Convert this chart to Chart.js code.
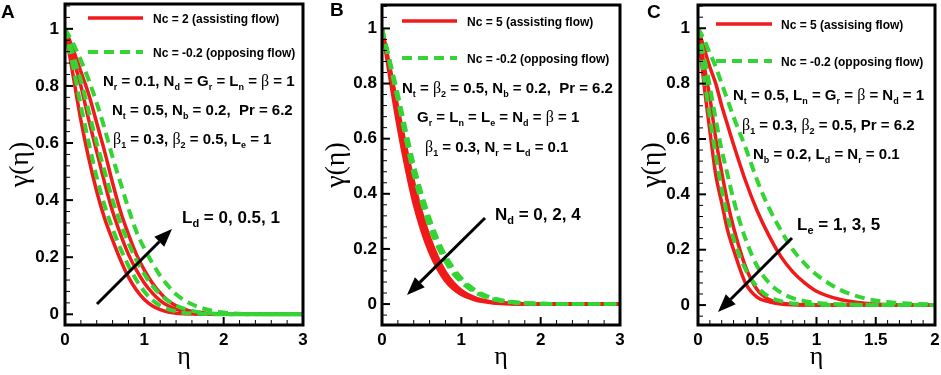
<!DOCTYPE html>
<html>
<head>
<meta charset="utf-8">
<script src="https://cdn.jsdelivr.net/npm/chart.js@4.4.1/dist/chart.umd.min.js"></script>
<style>
  html, body { margin: 0; padding: 0; background: #fff; }
  #wrap { position: relative; width: 941px; height: 375px; overflow: hidden; background: #fff; }
  canvas { position: absolute; top: 0; }
</style>
</head>
<body>
<div id="wrap">
  <canvas id="chartA" width="310" height="375" style="left:0px"></canvas>
  <canvas id="chartB" width="315" height="375" style="left:310px"></canvas>
  <canvas id="chartC" width="316" height="375" style="left:625px"></canvas>
</div>
<script>
// eta grids
const etaA = [0, 0.1, 0.2, 0.3, 0.4, 0.5, 0.6, 0.7, 0.8, 0.9, 1.0, 1.1, 1.2, 1.3, 1.4, 1.5, 1.6, 1.7, 1.8, 1.9, 2.0, 2.2, 2.5, 3.0];
const etaB = etaA;
const etaC = [0, 0.05, 0.1, 0.15, 0.2, 0.25, 0.3, 0.4, 0.5, 0.6, 0.7, 0.8, 0.9, 1.0, 1.2, 1.4, 1.6, 1.8, 2.0];

// panel A: L_d = 0, 0.5, 1
const redA_Ld0   = [1, 0.84, 0.68, 0.545, 0.43, 0.335, 0.26, 0.19, 0.13, 0.085, 0.052, 0.03, 0.016, 0.008, 0.004, 0.002, 0.001, 0, 0, 0, 0, 0, 0, 0];
const redA_Ld05  = [1, 0.9, 0.8, 0.68, 0.57, 0.46, 0.36, 0.28, 0.21, 0.155, 0.11, 0.075, 0.048, 0.03, 0.018, 0.01, 0.006, 0.003, 0.002, 0.001, 0, 0, 0, 0];
const redA_Ld1   = [1, 0.93, 0.85, 0.77, 0.67, 0.57, 0.46, 0.36, 0.28, 0.21, 0.155, 0.11, 0.075, 0.048, 0.03, 0.018, 0.01, 0.006, 0.003, 0.002, 0.001, 0, 0, 0];
const greenA_Ld0  = [1, 0.87, 0.73, 0.6, 0.48, 0.38, 0.3, 0.23, 0.17, 0.12, 0.08, 0.05, 0.03, 0.018, 0.01, 0.005, 0.003, 0.002, 0.001, 0, 0, 0, 0, 0];
const greenA_Ld05 = [1, 0.91, 0.82, 0.71, 0.6, 0.5, 0.4, 0.32, 0.25, 0.19, 0.14, 0.1, 0.07, 0.047, 0.03, 0.02, 0.012, 0.007, 0.004, 0.002, 0.001, 0, 0, 0];
const greenA_Ld1  = [1, 0.95, 0.89, 0.82, 0.74, 0.65, 0.55, 0.46, 0.37, 0.29, 0.23, 0.18, 0.135, 0.1, 0.07, 0.05, 0.035, 0.024, 0.016, 0.01, 0.006, 0.002, 0, 0];

// panel B: N_d = 0, 2, 4
const redB_Nd4   = [1, 0.82, 0.65, 0.5, 0.37, 0.27, 0.19, 0.13, 0.085, 0.055, 0.035, 0.022, 0.013, 0.008, 0.004, 0.002, 0.001, 0, 0, 0, 0, 0, 0, 0];
const redB_Nd2   = [1, 0.84, 0.68, 0.53, 0.4, 0.3, 0.215, 0.15, 0.1, 0.066, 0.043, 0.027, 0.017, 0.01, 0.006, 0.004, 0.002, 0.001, 0, 0, 0, 0, 0, 0];
const redB_Nd0   = [1, 0.86, 0.71, 0.57, 0.44, 0.33, 0.24, 0.17, 0.115, 0.077, 0.05, 0.032, 0.02, 0.012, 0.007, 0.005, 0.003, 0.002, 0.001, 0, 0, 0, 0, 0];
const greenB_Nd4 = [1, 0.87, 0.74, 0.6, 0.47, 0.37, 0.28, 0.21, 0.155, 0.11, 0.08, 0.056, 0.038, 0.026, 0.017, 0.011, 0.007, 0.005, 0.003, 0.002, 0.001, 0, 0, 0];
const greenB_Nd2 = [1, 0.875, 0.75, 0.615, 0.49, 0.385, 0.295, 0.22, 0.165, 0.12, 0.086, 0.06, 0.042, 0.029, 0.019, 0.012, 0.008, 0.005, 0.003, 0.002, 0.001, 0, 0, 0];
const greenB_Nd0 = [1, 0.88, 0.76, 0.63, 0.505, 0.4, 0.31, 0.235, 0.175, 0.13, 0.093, 0.066, 0.046, 0.032, 0.021, 0.014, 0.009, 0.006, 0.004, 0.002, 0.001, 0, 0, 0];

// panel C: L_e = 1, 3, 5
const redC_Le1   = [1, 0.93, 0.86, 0.8, 0.72, 0.65, 0.58, 0.45, 0.34, 0.25, 0.175, 0.12, 0.08, 0.05, 0.02, 0.007, 0.002, 0, 0];
const redC_Le3   = [1, 0.87, 0.75, 0.6, 0.48, 0.37, 0.28, 0.14, 0.055, 0.02, 0.008, 0.003, 0.001, 0, 0, 0, 0, 0, 0];
const redC_Le5   = [1, 0.8, 0.63, 0.47, 0.37, 0.27, 0.2, 0.08, 0.028, 0.012, 0.004, 0.001, 0, 0, 0, 0, 0, 0, 0];
const greenC_Le1 = [1, 0.96, 0.91, 0.86, 0.8, 0.74, 0.68, 0.57, 0.45, 0.35, 0.27, 0.2, 0.15, 0.11, 0.055, 0.025, 0.011, 0.005, 0.002];
const greenC_Le3 = [1, 0.9, 0.79, 0.67, 0.56, 0.47, 0.38, 0.24, 0.14, 0.08, 0.045, 0.025, 0.014, 0.008, 0.003, 0.001, 0, 0, 0];
const greenC_Le5 = [1, 0.83, 0.68, 0.54, 0.42, 0.32, 0.24, 0.13, 0.065, 0.03, 0.014, 0.006, 0.003, 0.001, 0, 0, 0, 0, 0];

// ticks
const yTicks = [0, 0.2, 0.4, 0.6, 0.8, 1];
const yTickLabels = ['0', '0.2', '0.4', '0.6', '0.8', '1'];
const xTicksAB = [0, 1, 2, 3];
const xTickLabelsAB = ['0', '1', '2', '3'];
const xTicksC = [0, 0.5, 1, 1.5, 2];
const xTickLabelsC = ['0', '0.5', '1', '1.5', '2'];

const RED = '#f01a1a';
const GREEN = '#33d433';
const SANS = '"Liberation Sans", Arial, sans-serif';
const SERIF = '"Liberation Serif", "Times New Roman", serif';

function toXY(xs, ys) {
    return xs.map((x, i) => ({ x: x, y: ys[i] }));
}

function lineSet(xs, ys, dashed) {
    return {
        data: toXY(xs, ys),
        borderColor: dashed ? GREEN : RED,
        borderWidth: dashed ? 4 : 3.5,
        borderDash: dashed ? [10, 6] : [],
        pointRadius: 0,
        cubicInterpolationMode: 'monotone',
        fill: false
    };
}

// text with "_x" subscripts, beta drawn in a serif face
function drawRich(ctx, str, x, y, size) {
    let cx = x;
    for (let i = 0; i < str.length; i++) {
        let ch = str[i];
        let sub = false;
        if (ch === '_') { sub = true; ch = str[++i]; }
        const s = sub ? Math.round(size * 0.62) : size;
        ctx.font = ch === 'β' ? `${s + 1}px ${SERIF}` : `bold ${s}px ${SANS}`;
        ctx.fillText(ch, cx, sub ? y + size * 0.24 : y);
        cx += ctx.measureText(ch).width;
    }
}

function drawArrow(ctx, x1, y1, x2, y2) {
    const ang = Math.atan2(y2 - y1, x2 - x1);
    const hl = 18, hw = 7;
    const bx = x2 - hl * Math.cos(ang), by = y2 - hl * Math.sin(ang);
    ctx.strokeStyle = '#000';
    ctx.lineWidth = 3;
    ctx.setLineDash([]);
    ctx.beginPath();
    ctx.moveTo(x1, y1);
    ctx.lineTo(bx, by);
    ctx.stroke();
    ctx.fillStyle = '#000';
    ctx.beginPath();
    ctx.moveTo(x2, y2);
    ctx.lineTo(bx + hw * Math.sin(ang), by - hw * Math.cos(ang));
    ctx.lineTo(bx - hw * Math.sin(ang), by + hw * Math.cos(ang));
    ctx.closePath();
    ctx.fill();
}

const decorPlugin = {
    id: 'decor',
    afterDatasetsDraw(chart) {
        const p = chart.options.plugins.decor;
        const ctx = chart.ctx;
        const a = chart.chartArea;
        const xs = chart.scales.x, ys = chart.scales.y;
        const off = p.offset;
        ctx.save();
        // ticks inside the frame
        ctx.strokeStyle = '#000';
        ctx.setLineDash([]);
        for (let v = Math.ceil(ys.min / 0.04); v * 0.04 <= ys.max; v++) {
            const val = v * 0.04;
            const major = v % 5 === 0;
            const py = ys.getPixelForValue(val);
            ctx.lineWidth = major ? 2 : 1;
            ctx.beginPath();
            ctx.moveTo(a.left, py);
            ctx.lineTo(a.left + (major ? 8 : 5), py);
            ctx.stroke();
        }
        const n = Math.round(xs.max / p.xMinor);
        for (let i = 0; i <= n; i++) {
            const val = i * p.xMinor;
            const major = i % p.xPer === 0;
            const px = xs.getPixelForValue(val);
            ctx.lineWidth = major ? 2 : 1;
            ctx.beginPath();
            ctx.moveTo(px, a.bottom);
            ctx.lineTo(px, a.bottom - (major ? 8 : 5));
            ctx.stroke();
        }
        // frame
        ctx.lineWidth = 3;
        ctx.strokeRect(a.left, a.top, a.right - a.left, a.bottom - a.top);

        // legend
        ctx.lineWidth = 3.5;
        ctx.strokeStyle = RED;
        ctx.beginPath();
        ctx.moveTo(p.legend.x1 - off, p.legend.y1);
        ctx.lineTo(p.legend.x2 - off, p.legend.y1);
        ctx.stroke();
        ctx.lineWidth = 4;
        ctx.strokeStyle = GREEN;
        ctx.setLineDash([10, 6]);
        ctx.beginPath();
        ctx.moveTo(p.legend.x1 - off, p.legend.y2);
        ctx.lineTo(p.legend.x2 - off, p.legend.y2);
        ctx.stroke();
        ctx.setLineDash([]);
        ctx.fillStyle = '#000';
        ctx.textBaseline = 'alphabetic';
        ctx.textAlign = 'left';
        ctx.font = `bold 12px ${SANS}`;
        ctx.fillText(p.legend.t1, p.legend.tx - off, p.legend.y1 + 5);
        ctx.fillText(p.legend.t2, p.legend.tx - off, p.legend.y2 + 5);

        // parameter lines
        p.notes.forEach(nt => drawRich(ctx, nt[0], nt[1] - off, nt[2], 15));
        drawRich(ctx, p.big[0], p.big[1] - off, p.big[2], 17);
        drawArrow(ctx, p.arrow[0] - off, p.arrow[1], p.arrow[2] - off, p.arrow[3]);

        // panel letter
        ctx.fillStyle = '#000';
        ctx.font = `bold 19px ${SANS}`;
        ctx.fillText(p.letter[0], p.letter[1] - off, p.letter[2]);
        ctx.restore();
    }
};

function makeChart(id, sets, xTicks, xLabels, xMax, yMin, yMax, box, decor) {
    return new Chart(document.getElementById(id), {
        type: 'line',
        data: { datasets: sets },
        options: {
            responsive: false,
            animation: false,
            events: [],
            layout: { padding: { left: 0, right: box.right, top: box.top, bottom: 0 } },
            plugins: { legend: { display: false }, tooltip: { enabled: false }, decor: decor },
            scales: {
                x: {
                    type: 'linear', min: 0, max: xMax,
                    afterBuildTicks: s => { s.ticks = xTicks.map(v => ({ value: v })); },
                    afterFit: s => { s.height = 50; s.paddingLeft = 0; s.paddingRight = 0; },
                    grid: { display: false, drawTicks: false },
                    border: { display: false },
                    ticks: {
                        padding: 5, color: '#000', maxRotation: 0,
                        font: { family: SANS, size: 17, weight: 'bold' },
                        callback: (v, i) => xLabels[i]
                    },
                    title: {
                        display: true, text: 'η', color: '#000',
                        font: { family: SERIF, size: 26 },
                        padding: { top: 0, bottom: 2 }
                    }
                },
                y: {
                    type: 'linear', min: yMin, max: yMax,
                    afterBuildTicks: s => { s.ticks = yTicks.map(v => ({ value: v })); },
                    afterFit: s => { s.width = box.yw; s.paddingTop = 0; s.paddingBottom = 0; },
                    grid: { display: false, drawTicks: false },
                    border: { display: false },
                    ticks: {
                        padding: box.yPad, color: '#000',
                        font: { family: SANS, size: 17, weight: 'bold' },
                        callback: (v, i) => yTickLabels[i]
                    },
                    title: {
                        display: true, text: 'γ(η)', color: '#000',
                        font: { family: SERIF, size: 28 },
                        padding: { top: box.titlePad, bottom: 0 }
                    }
                }
            }
        },
        plugins: [decorPlugin]
    });
}

makeChart('chartA', [
    lineSet(etaA, greenA_Ld0, true), lineSet(etaA, greenA_Ld05, true), lineSet(etaA, greenA_Ld1, true),
    lineSet(etaA, redA_Ld0, false), lineSet(etaA, redA_Ld05, false), lineSet(etaA, redA_Ld1, false)
], xTicksAB, xTickLabelsAB, 3, -0.0375, 1.087,
{ right: 7, top: 4, yw: 65, yPad: 6, titlePad: 4 },
{
    offset: 0, xMinor: 0.2, xPer: 5,
    legend: { x1: 88, x2: 143, y1: 18, y2: 52, tx: 153, t1: 'Nc = 2 (assisting flow)', t2: 'Nc = -0.2 (opposing flow)' },
    notes: [['N_r = 0.1, N_d = G_r = L_n = β = 1', 103, 86], ['N_t = 0.5, N_b = 0.2,  Pr = 6.2', 112, 115], ['β_1 = 0.3, β_2 = 0.5, L_e = 1', 113, 144]],
    big: ['L_d = 0, 0.5, 1', 182, 223],
    arrow: [97, 304, 172, 229],
    letter: ['A', 1, 18]
});

makeChart('chartB', [
    lineSet(etaB, greenB_Nd4, true), lineSet(etaB, greenB_Nd2, true), lineSet(etaB, greenB_Nd0, true),
    lineSet(etaB, redB_Nd4, false), lineSet(etaB, redB_Nd2, false), lineSet(etaB, redB_Nd0, false)
], xTicksAB, xTickLabelsAB, 3, -0.076, 1.085,
{ right: 5, top: 5, yw: 72, yPad: 5, titlePad: 10 },
{
    offset: 310, xMinor: 0.2, xPer: 5,
    legend: { x1: 402, x2: 457, y1: 21, y2: 58, tx: 467, t1: 'Nc = 5 (assisting flow)', t2: 'Nc = -0.2 (opposing flow)' },
    notes: [['N_t = β_2 = 0.5, N_b = 0.2,  Pr = 6.2', 402, 93], ['G_r = L_n = L_e = N_d = β = 1', 417, 122], ['β_1 = 0.3, N_r = L_d = 0.1', 425, 152]],
    big: ['N_d = 0, 2, 4', 495, 220],
    arrow: [485, 218, 407, 295],
    letter: ['B', 330, 16]
});

makeChart('chartC', [
    lineSet(etaC, greenC_Le1, true), lineSet(etaC, greenC_Le3, true), lineSet(etaC, greenC_Le5, true),
    lineSet(etaC, redC_Le1, false), lineSet(etaC, redC_Le3, false), lineSet(etaC, redC_Le5, false)
], xTicksC, xTickLabelsC, 2, -0.072, 1.084,
{ right: 6, top: 5, yw: 73, yPad: 8, titlePad: 11 },
{
    offset: 625, xMinor: 0.1, xPer: 5,
    legend: { x1: 716, x2: 772, y1: 24, y2: 61, tx: 781, t1: 'Nc = 5 (assising flow)', t2: 'Nc = -0.2 (opposing flow)' },
    notes: [['N_t = 0.5, L_n = G_r = β = N_d = 1', 733, 100], ['β_1 = 0.3, β_2 = 0.5, Pr = 6.2', 742, 130], ['N_b = 0.2, L_d = N_r = 0.1', 753, 159]],
    big: ['L_e = 1, 3, 5', 797, 230],
    arrow: [792, 238, 718, 312],
    letter: ['C', 647, 18]
});
</script>
</body>
</html>
